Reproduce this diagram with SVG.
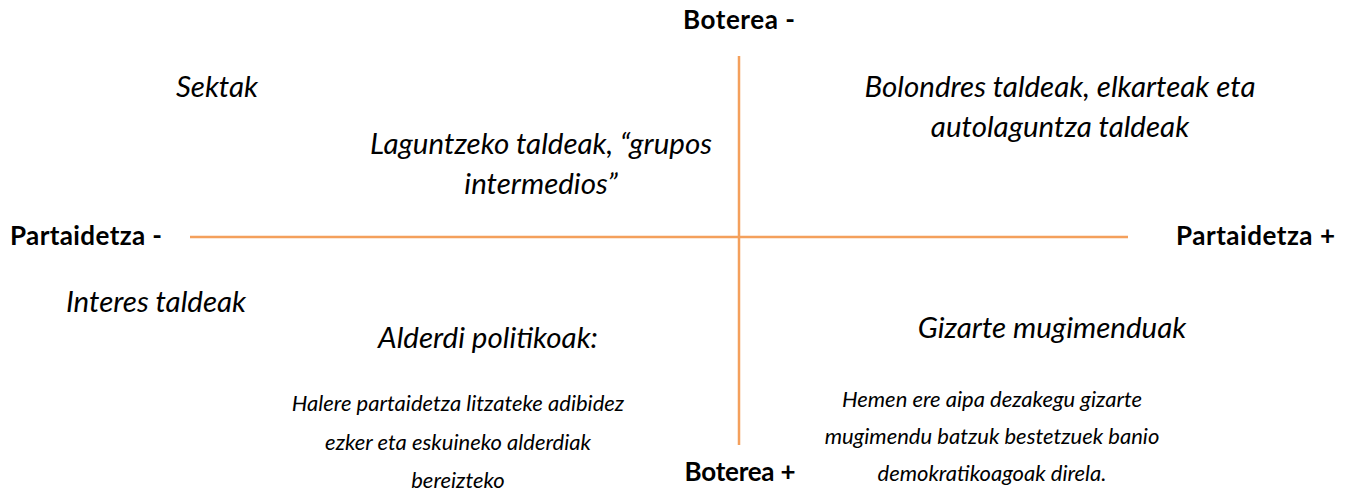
<svg xmlns="http://www.w3.org/2000/svg" width="1352" height="495" viewBox="0 0 1352 495">
<style>
.b{font-family:Lato,"Liberation Sans",sans-serif;font-weight:bold;font-size:26px;fill:#000}
.i{font-family:Lato,"Liberation Sans",sans-serif;font-style:italic;font-size:29.5px;fill:#000}
.s{font-family:Lato,"Liberation Sans",sans-serif;font-style:italic;font-size:22px;fill:#000}
.ax{stroke:#F4A05C;stroke-width:2.5;fill:none}
</style>
<rect width="1352" height="495" fill="#fff"/>
<g id="connectors">
<line class="ax" x1="739" y1="56" x2="739" y2="445"/>
<line class="ax" x1="190" y1="237" x2="1128" y2="237"/>
</g>
<g id="boterea-minus"><text class="b" x="739" y="29" text-anchor="middle" textLength="112">Boterea -</text></g>
<g id="boterea-plus"><text class="b" x="740" y="481" text-anchor="middle" textLength="111">Boterea +</text></g>
<g id="partaidetza-minus"><text class="b" x="10" y="245" textLength="152">Partaidetza -</text></g>
<g id="partaidetza-plus"><text class="b" x="1176" y="245" textLength="159">Partaidetza +</text></g>
<g id="sektak"><text class="i" x="217" y="97" text-anchor="middle">Sektak</text></g>
<g id="bolondres"><text class="i" text-anchor="middle"><tspan x="1060" y="97">Bolondres taldeak, elkarteak eta</tspan><tspan x="1060" y="137">autolaguntza taldeak</tspan></text></g>
<g id="laguntzeko"><text class="i" text-anchor="middle"><tspan x="541" y="154">Laguntzeko taldeak, “grupos</tspan><tspan x="541" y="194">intermedios”</tspan></text></g>
<g id="interes"><text class="i" x="156" y="312" text-anchor="middle">Interes taldeak</text></g>
<g id="alderdi"><text class="i" x="488" y="348" text-anchor="middle">Alderdi politikoak:</text></g>
<g id="gizarte"><text class="i" x="1052" y="338" text-anchor="middle">Gizarte mugimenduak</text></g>
<g id="halere"><text class="s" text-anchor="middle"><tspan x="458" y="411">Halere partaidetza litzateke adibidez</tspan><tspan x="458" y="450">ezker eta eskuineko alderdiak</tspan><tspan x="458" y="488">bereizteko</tspan></text></g>
<g id="hemen"><text class="s" text-anchor="middle"><tspan x="992" y="407">Hemen ere aipa dezakegu gizarte</tspan><tspan x="992" y="444">mugimendu batzuk bestetzuek banio</tspan><tspan x="992" y="481">demokratikoagoak direla.</tspan></text></g>
</svg>
